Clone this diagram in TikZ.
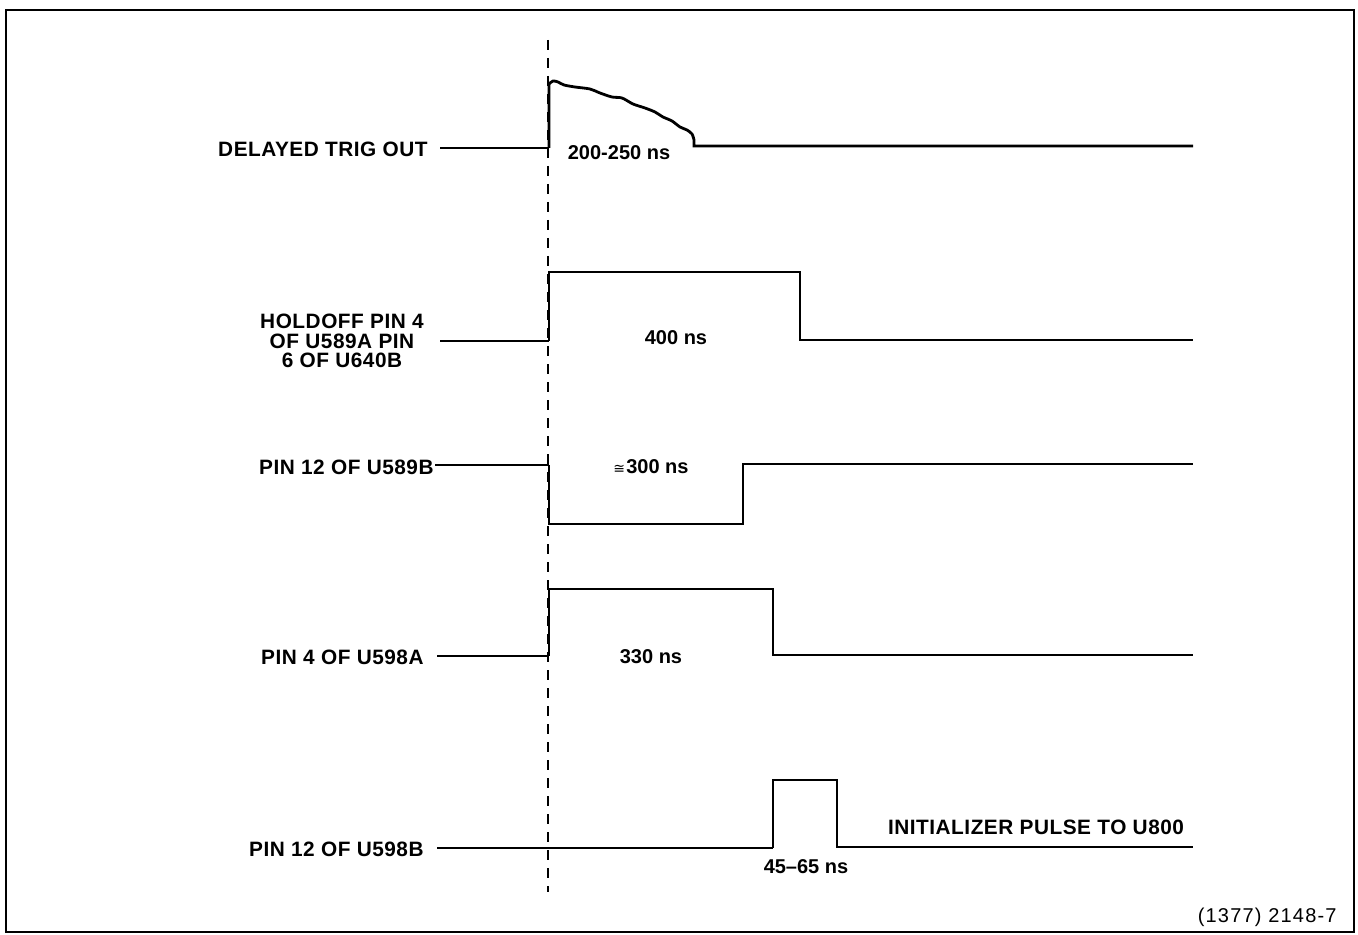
\documentclass[tikz,border=0pt]{standalone}
\usepackage{fontspec}
\setmainfont{Liberation Sans}
\newfontfamily\labfont[LetterSpace=2.5]{Liberation Sans}
\newfontfamily\figfont[LetterSpace=6]{Liberation Sans}
\newfontfamily\symfont{DejaVu Sans}
\begin{document}
\begin{tikzpicture}[x=0.5pt,y=-0.5pt,
  lbl/.style={font=\labfont\bfseries\fontsize{10.4}{9.6}\selectfont, inner sep=0pt},
  dur/.style={font=\bfseries\fontsize{10}{10}\selectfont, inner sep=0pt},
  wave/.style={line width=1.4pt, line join=miter},
  feed/.style={line width=1.1pt},
  frame/.style={line width=0.9pt},
  marker/.style={line width=0.9pt, dash pattern=on 5pt off 4pt}]
\useasboundingbox (0,0) rectangle (1358,935);
\draw[frame] (6,10) rectangle (1354,932);
% dashed reference line
\coordinate (dtop) at (548,40);
\coordinate (dbot) at (548,892);
\draw[marker] (dtop) -- (dbot);

% 1 DELAYED TRIG OUT
\node[lbl, anchor=east] (l1) at (428,149) {DELAYED TRIG OUT};
\draw[feed] (440,148) -- (549,148);
\draw[wave] (549,148) -- (549,84)
  plot[smooth, tension=0.5] coordinates {(549,84) (553,81) (558,82) (564,85) (575,87) (590,89) (600,93) (612,97) (622,98) (633,104) (645,108) (655,112) (663,117) (672,121) (680,127) (687,130) (692,134) (694,140)}
  -- (694,146) -- (1193,146);
\node[dur] (t1) at (619,153) {200-250 ns};

% 2 HOLDOFF
\node[lbl, align=center] (l2) at (342,341) {HOLDOFF PIN 4\\OF U589A PIN\\6 OF U640B};
\draw[feed] (440,341) -- (549,341);
\draw[wave] (549,341) -- (549,272) -- (800,272) -- (800,340) -- (1193,340);
\node[dur] (t2) at (676,338) {400 ns};

% 3 PIN 12 OF U589B
\node[lbl, anchor=east] (l3) at (434,467) {PIN 12 OF U589B};
\draw[feed] (435,465) -- (549,465);
\draw[wave] (549,465) -- (549,524) -- (743,524) -- (743,464) -- (1193,464);
\node[dur] (t3) at (651,467) {{\symfont\mdseries\fontsize{7}{7}\selectfont ≅}\kern0.6pt300 ns};

% 4 PIN 4 OF U598A
\node[lbl, anchor=east] (l4) at (424,657) {PIN 4 OF U598A};
\draw[feed] (437,656) -- (549,656);
\draw[wave] (549,656) -- (549,589) -- (773,589) -- (773,655) -- (1193,655);
\node[dur] (t4) at (651,657) {330 ns};

% 5 PIN 12 OF U598B
\node[lbl, anchor=east] (l5) at (424,849) {PIN 12 OF U598B};
\draw[feed] (437,848) -- (773,848);
\draw[wave] (773,848) -- (773,780) -- (837,780) -- (837,847) -- (1193,847);
\node[dur] (t5) at (806,867) {45\textendash65 ns};
\node[lbl] (t6) at (1036,827) {INITIALIZER PULSE TO U800};

\node[inner sep=0pt, anchor=east, font=\figfont\fontsize{10}{10}\selectfont] (fig) at (1337,917) {(1377) 2148-7};
\end{tikzpicture}
\end{document}
